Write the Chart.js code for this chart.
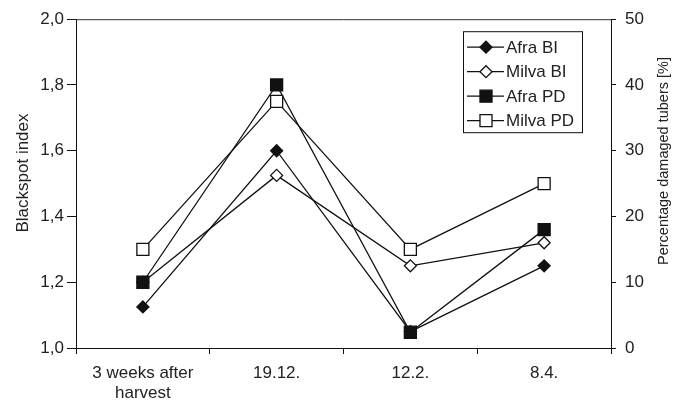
<!DOCTYPE html>
<html>
<head>
<meta charset="utf-8">
<script src="https://cdn.jsdelivr.net/npm/chart.js@4/dist/chart.umd.min.js"></script>
<style>
  html, body { margin: 0; padding: 0; background: #fff; }
  #wrap { width: 685px; height: 404px; }
</style>
</head>
<body>
<div id="wrap"><canvas id="chart"></canvas></div>
<script>
// Data
const categories = [['3 weeks after', 'harvest'], '19.12.', '12.2.', '8.4.'];
const afraBI = [1.125, 1.60, 1.05, 1.25];
const milvaBI = [1.20, 1.525, 1.25, 1.32];
const afraPD = [10, 40, 2.4, 18];
const milvaPD = [15, 37.5, 15, 25];
const leftTicks = [1.0, 1.2, 1.4, 1.6, 1.8, 2.0];
const rightTicks = [0, 10, 20, 30, 40, 50];
const leftTitle = 'Blackspot index';
const rightTitle = 'Percentage damaged tubers [%]';

const ink = '#111';
const family = 'Liberation Sans, Arial, sans-serif';
const font = { family: family, size: 17 };

// Boxed legend with line + marker samples, like the original
const boxLegend = {
    id: 'boxLegend',
    afterDraw(chart) {
        const ctx = chart.ctx;
        const area = chart.chartArea;
        const x0 = area.right - 148, y0 = area.top + 12;
        const w = 119, h = 101, rowH = 24.5;
        ctx.save();
        ctx.fillStyle = '#fff';
        ctx.fillRect(x0, y0, w, h);
        ctx.strokeStyle = ink;
        ctx.lineWidth = 1;
        ctx.strokeRect(x0 + 0.5, y0 + 0.5, w, h);
        ctx.font = font.size + 'px ' + family;
        ctx.textBaseline = 'middle';
        chart.data.datasets.forEach((ds, i) => {
            const cy = y0 + 16 + i * rowH;
            ctx.strokeStyle = ink;
            ctx.lineWidth = 1.3;
            ctx.beginPath();
            ctx.moveTo(x0 + 4, cy);
            ctx.lineTo(x0 + 41, cy);
            ctx.stroke();
            ctx.fillStyle = ds.pointBackgroundColor;
            ctx.strokeStyle = ink;
            ctx.lineWidth = 1.3;
            Chart.helpers.drawPoint(ctx, {
                pointStyle: ds.pointStyle,
                radius: ds.pointRadius,
                rotation: 0,
                borderWidth: 1.3
            }, x0 + 23, cy);
            ctx.fillStyle = '#222';
            ctx.fillText(ds.label, x0 + 43, cy + 1);
        });
        ctx.restore();
    }
};

// Top border of the plot box and both axis titles (read bottom to top)
const frame = {
    id: 'frame',
    afterDraw(chart) {
        const ctx = chart.ctx, a = chart.chartArea;
        ctx.save();
        ctx.strokeStyle = '#333';
        ctx.lineWidth = 1;
        ctx.beginPath();
        ctx.moveTo(a.left, a.top + 0.5);
        ctx.lineTo(a.right, a.top + 0.5);
        ctx.stroke();

        ctx.fillStyle = '#222';
        ctx.textAlign = 'center';
        ctx.textBaseline = 'middle';
        ctx.font = '17px ' + family;
        ctx.translate(23, 173);
        ctx.rotate(-Math.PI / 2);
        ctx.fillText(leftTitle, 0, 0);
        ctx.restore();

        ctx.save();
        ctx.fillStyle = '#222';
        ctx.textAlign = 'center';
        ctx.textBaseline = 'middle';
        ctx.font = '14.5px ' + family;
        ctx.translate(664, 161);
        ctx.rotate(-Math.PI / 2);
        ctx.fillText(rightTitle, 0, 0);
        ctx.restore();
    }
};

function series(label, data, axis, style, fill, radius, order) {
    return {
        label: label,
        data: data,
        yAxisID: axis,
        borderColor: ink,
        borderWidth: 1.3,
        pointStyle: style,
        pointRadius: radius,
        pointHoverRadius: radius,
        pointBackgroundColor: fill,
        pointBorderColor: ink,
        pointBorderWidth: 1.3,
        tension: 0,
        fill: false,
        order: order
    };
}

new Chart(document.getElementById('chart'), {
    type: 'line',
    data: {
        labels: categories,
        datasets: [
            series('Afra BI', afraBI, 'y', 'rectRot', ink, 6, 1),
            series('Milva BI', milvaBI, 'y', 'rectRot', '#fff', 6, 3),
            series('Afra PD', afraPD, 'y1', 'rect', ink, 8.5, 0),
            series('Milva PD', milvaPD, 'y1', 'rect', '#fff', 8.5, 2)
        ]
    },
    options: {
        responsive: true,
        maintainAspectRatio: false,
        animation: false,
        layout: { padding: { top: 16, left: 0, right: 0, bottom: 0 } },
        plugins: {
            legend: { display: false },
            tooltip: { enabled: false }
        },
        scales: {
            x: {
                offset: true,
                grid: { offset: true, drawOnChartArea: false, color: ink, tickLength: 6 },
                border: { color: ink, width: 1 },
                ticks: { color: '#222', font: font, padding: 9, maxRotation: 0 },
                afterFit: s => { s.height = 56; }
            },
            y: {
                position: 'left',
                min: 1.0,
                max: 2.0,
                afterBuildTicks: s => { s.ticks = leftTicks.map(v => ({ value: v })); },
                grid: { drawOnChartArea: false, color: ink, tickLength: 9 },
                border: { color: ink, width: 1 },
                ticks: {
                    color: '#222',
                    font: font,
                    padding: 3,
                    callback: v => v.toFixed(1).replace('.', ',')
                },
                afterFit: s => { s.width = 76; }
            },
            y1: {
                position: 'right',
                min: 0,
                max: 50,
                afterBuildTicks: s => { s.ticks = rightTicks.map(v => ({ value: v })); },
                grid: { drawOnChartArea: false, color: ink, tickLength: 5 },
                border: { color: ink, width: 1 },
                ticks: { color: '#222', font: font, padding: 9 },
                afterFit: s => { s.width = 74; }
            }
        }
    },
    plugins: [frame, boxLegend]
});
</script>
</body>
</html>
